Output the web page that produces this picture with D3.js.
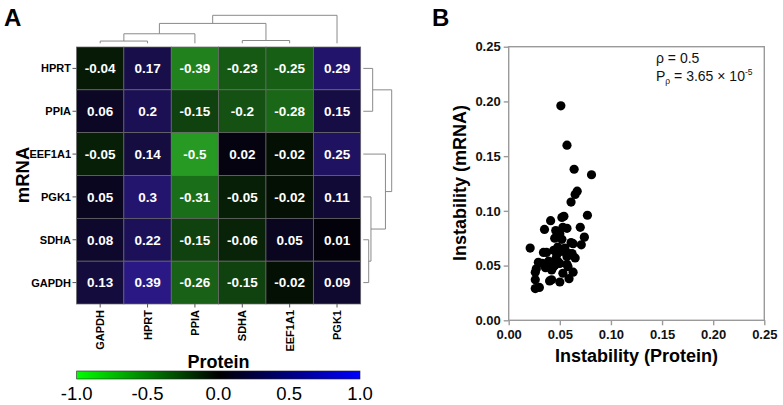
<!DOCTYPE html>
<html><head><meta charset="utf-8">
<script src="https://cdn.jsdelivr.net/npm/d3@7"></script>
<style>body{margin:0;background:#fff}svg{display:block;font-family:"Liberation Sans",Arial,sans-serif}</style>
</head><body><svg id="c" width="783" height="405"></svg>
<script>
// ---------- DATA ----------
const rowGenes = ["HPRT","PPIA","EEF1A1","PGK1","SDHA","GAPDH"];      // mRNA
const colGenes = ["GAPDH","HPRT","PPIA","SDHA","EEF1A1","PGK1"];      // Protein
const corrHPRT   = [-0.04, 0.17, -0.39, -0.23, -0.25, 0.29];
const corrPPIA   = [0.06, 0.2, -0.15, -0.2, -0.28, 0.15];
const corrEEF1A1 = [-0.05, 0.14, -0.5, 0.02, -0.02, 0.25];
const corrPGK1   = [0.05, 0.3, -0.31, -0.05, -0.02, 0.11];
const corrSDHA   = [0.08, 0.22, -0.15, -0.06, 0.05, 0.01];
const corrGAPDH  = [0.13, 0.39, -0.26, -0.15, -0.02, 0.09];
const corrRows = [corrHPRT, corrPPIA, corrEEF1A1, corrPGK1, corrSDHA, corrGAPDH];
// dendrogram merges: [left, right, height]; numbers = leaf index, "mK" = merge K
const colMerges = [[0,1,0.08],[3,4,0.10],["m0",2,0.34],["m2","m1",0.71],["m3",5,1.0]];
const rowMerges = [[4,5,0.19],[3,"m0",0.27],[0,1,0.33],[2,"m1",0.78],["m2","m3",1.0]];
const colorTicks = [-1.0,-0.5,0.0,0.5,1.0];
// scatter
const protInstab = [0.051,0.057,0.064,0.081,0.067,0.065,0.061,0.077,0.054,0.052,0.041,0.035,0.046,0.050,0.053,0.057,0.070,0.045,0.052,0.074,0.061,0.063,0.071,0.021,0.034,0.044,0.047,0.052,0.057,0.062,0.059,0.065,0.029,0.033,0.039,0.050,0.058,0.057,0.043,0.042,0.027,0.026,0.053,0.063,0.026,0.040,0.042,0.050,0.059,0.026,0.030,0.046,0.048,0.037,0.055,0.048,0.045,0.036];
const mrnaInstab = [0.196,0.160,0.138,0.133,0.118,0.115,0.108,0.096,0.095,0.094,0.091,0.083,0.082,0.079,0.085,0.084,0.085,0.075,0.074,0.076,0.071,0.070,0.069,0.066,0.062,0.064,0.060,0.063,0.058,0.061,0.061,0.057,0.053,0.052,0.054,0.052,0.049,0.051,0.048,0.046,0.047,0.044,0.043,0.044,0.037,0.036,0.037,0.035,0.038,0.029,0.030,0.056,0.054,0.062,0.066,0.067,0.050,0.048];
const axisTicks = [0.00,0.05,0.10,0.15,0.20,0.25];

// ---------- DRAW ----------
const svg = d3.select("#c");
// panel labels
svg.append("text").attr("x",4).attr("y",26).attr("font-size",24).attr("font-weight","bold").text("A");
svg.append("text").attr("x",432).attr("y",26).attr("font-size",24).attr("font-weight","bold").text("B");

// heatmap
const hm = {x0:76.5, x1:360.7, y0:47, y1:304};
const xB = d3.scaleBand().domain(colGenes).range([hm.x0,hm.x1]);
const yB = d3.scaleBand().domain(rowGenes).range([hm.y0,hm.y1]);
const powS = d3.scalePow().exponent(0.7).domain([0,1]).range([0,1]).clamp(true);
const negI = d3.interpolateRgb("#000000","#3dfa38");
const posI = d3.interpolateRgb("#000000","#5230ff");
const color = v => v<0 ? negI(powS(-v)) : posI(powS(v));

const cells = [];
rowGenes.forEach((r,i)=>colGenes.forEach((c,j)=>cells.push({r,c,v:corrRows[i][j]})));
svg.append("g").selectAll("rect").data(cells).join("rect")
  .attr("x",d=>xB(d.c)).attr("y",d=>yB(d.r)).attr("width",xB.bandwidth()).attr("height",yB.bandwidth())
  .attr("fill",d=>color(d.v)).attr("stroke","#6a6a6a").attr("stroke-width",0.7);
svg.append("g").selectAll("text").data(cells).join("text")
  .attr("x",d=>xB(d.c)+xB.bandwidth()/2).attr("y",d=>yB(d.r)+yB.bandwidth()/2+4.8)
  .attr("text-anchor","middle").attr("fill","#fff").attr("font-weight","bold").attr("font-size",13.5)
  .text(d=>d.v);
// row labels + ticks
const gl = svg.append("g");
rowGenes.forEach(r=>{
  const cy = yB(r)+yB.bandwidth()/2;
  gl.append("line").attr("x1",72.5).attr("x2",hm.x0).attr("y1",cy).attr("y2",cy).attr("stroke","#555");
  gl.append("text").attr("x",71).attr("y",cy+4).attr("text-anchor","end").attr("font-size",11).attr("font-weight","bold").text(r);
});
colGenes.forEach(c=>{
  const cx = xB(c)+xB.bandwidth()/2;
  gl.append("line").attr("x1",cx).attr("x2",cx).attr("y1",hm.y1).attr("y2",hm.y1+3.5).attr("stroke","#555");
  gl.append("text").attr("transform",`translate(${cx+4},310) rotate(-90)`).attr("text-anchor","end")
    .attr("font-size",11).attr("font-weight","bold").text(c);
});
svg.append("text").attr("transform","translate(29,175) rotate(-90)").attr("text-anchor","middle")
  .attr("font-size",18.5).attr("font-weight","bold").text("mRNA");
svg.append("text").attr("x",218.5).attr("y",368).attr("text-anchor","middle")
  .attr("font-size",18).attr("font-weight","bold").text("Protein");

// dendrograms
function dendro(merges, leafPos, hScale, horizontal){
  const nodes = [];
  const get = k => typeof k==="number" ? {pos:leafPos[k],h:0} : nodes[+k.slice(1)];
  const g = svg.append("g").attr("fill","none").attr("stroke","#8a8a8a").attr("stroke-width",1);
  merges.forEach(([a,b,h])=>{
    const A=get(a), B=get(b);
    const pts = [[A.pos,A.h],[A.pos,h],[B.pos,h],[B.pos,B.h]].map(([p,hh])=> horizontal ? [hScale(hh),p] : [p,hScale(hh)]);
    g.append("path").attr("d",d3.line()(pts));
    nodes.push({pos:(A.pos+B.pos)/2,h});
  });
}
dendro(colMerges, colGenes.map(c=>xB(c)+xB.bandwidth()/2), d3.scaleLinear().domain([0,1]).range([43.3,15.3]), false);
dendro(rowMerges, rowGenes.map(r=>yB(r)+yB.bandwidth()/2), d3.scaleLinear().domain([0,1]).range([363.3,391.7]), true);

// colorbar
const cbX = d3.scaleLinear().domain([-1,1]).range([76.7,360]);
const grad = svg.append("defs").append("linearGradient").attr("id","cb");
d3.range(0,41).forEach(i=>{const v=-1+i/20; grad.append("stop").attr("offset",(i/40*100)+"%").attr("stop-color",v<0?d3.interpolateRgb("#000","#00ff00")(-v):d3.interpolateRgb("#000","#0000ff")(v));});
svg.append("rect").attr("x",cbX(-1)).attr("y",371).attr("width",cbX(1)-cbX(-1)).attr("height",8)
  .attr("fill","url(#cb)").attr("stroke","#222").attr("stroke-width",0.6);
svg.append("g").selectAll("text").data(colorTicks).join("text")
  .attr("x",d=>cbX(d)).attr("y",399.5).attr("text-anchor","middle").attr("font-size",18.5)
  .text(d=>d3.format(".1f")(d).replace("−","-"));

// scatter
const sx = d3.scaleLinear().domain([0,0.25]).range([508.7,764.3]);
const sy = d3.scaleLinear().domain([0,0.25]).range([320.3,46.7]);
const ax = svg.append("g");
ax.append("rect").attr("x",sx(0)).attr("y",sy(0.25)).attr("width",sx(0.25)-sx(0)).attr("height",sy(0)-sy(0.25))
  .attr("fill","none").attr("stroke","#9a9a9a").attr("stroke-width",1.4);
const xa = ax.append("g").attr("transform",`translate(0,${sy(0)})`)
  .call(d3.axisBottom(sx).tickValues(axisTicks).tickFormat(d3.format(".2f")).tickSize(5));
const ya = ax.append("g").attr("transform",`translate(${sx(0)},0)`)
  .call(d3.axisLeft(sy).tickValues(axisTicks).tickFormat(d3.format(".2f")).tickSize(5));
[xa,ya].forEach(a=>{a.select(".domain").remove();
  a.selectAll(".tick line").attr("stroke","#9a9a9a").attr("stroke-width",1.4);
  a.selectAll(".tick text").attr("font-size",13).attr("font-weight","bold").attr("fill","#111")
   .attr("font-family","Liberation Sans, Arial, sans-serif");});
xa.selectAll(".tick text").attr("dy","0.95em").attr("y",6);
ya.selectAll(".tick text").attr("x",-8);
svg.append("g").selectAll("circle").data(protInstab.map((p,i)=>[p,mrnaInstab[i]])).join("circle")
  .attr("cx",d=>sx(d[0])).attr("cy",d=>sy(d[1])).attr("r",4.6).attr("fill","#000");
svg.append("text").attr("x",636.5).attr("y",362).attr("text-anchor","middle").attr("font-size",18).attr("font-weight","bold").text("Instability (Protein)");
svg.append("text").attr("transform","translate(466,183) rotate(-90)").attr("text-anchor","middle").attr("font-size",18).attr("font-weight","bold").text("Instability (mRNA)");
const ann = svg.append("g").attr("font-size",14).attr("fill","#111");
ann.append("text").attr("x",656).attr("y",63.3).text("ρ = 0.5");
const t2 = ann.append("text").attr("x",656).attr("y",80.5);
t2.append("tspan").text("P");
t2.append("tspan").attr("font-size",8.5).attr("dy",3).text("ρ");
t2.append("tspan").attr("dy",-3).text(" = 3.65 × 10");
t2.append("tspan").attr("font-size",8.5).attr("dy",-6).text("-5");
</script></body></html>
